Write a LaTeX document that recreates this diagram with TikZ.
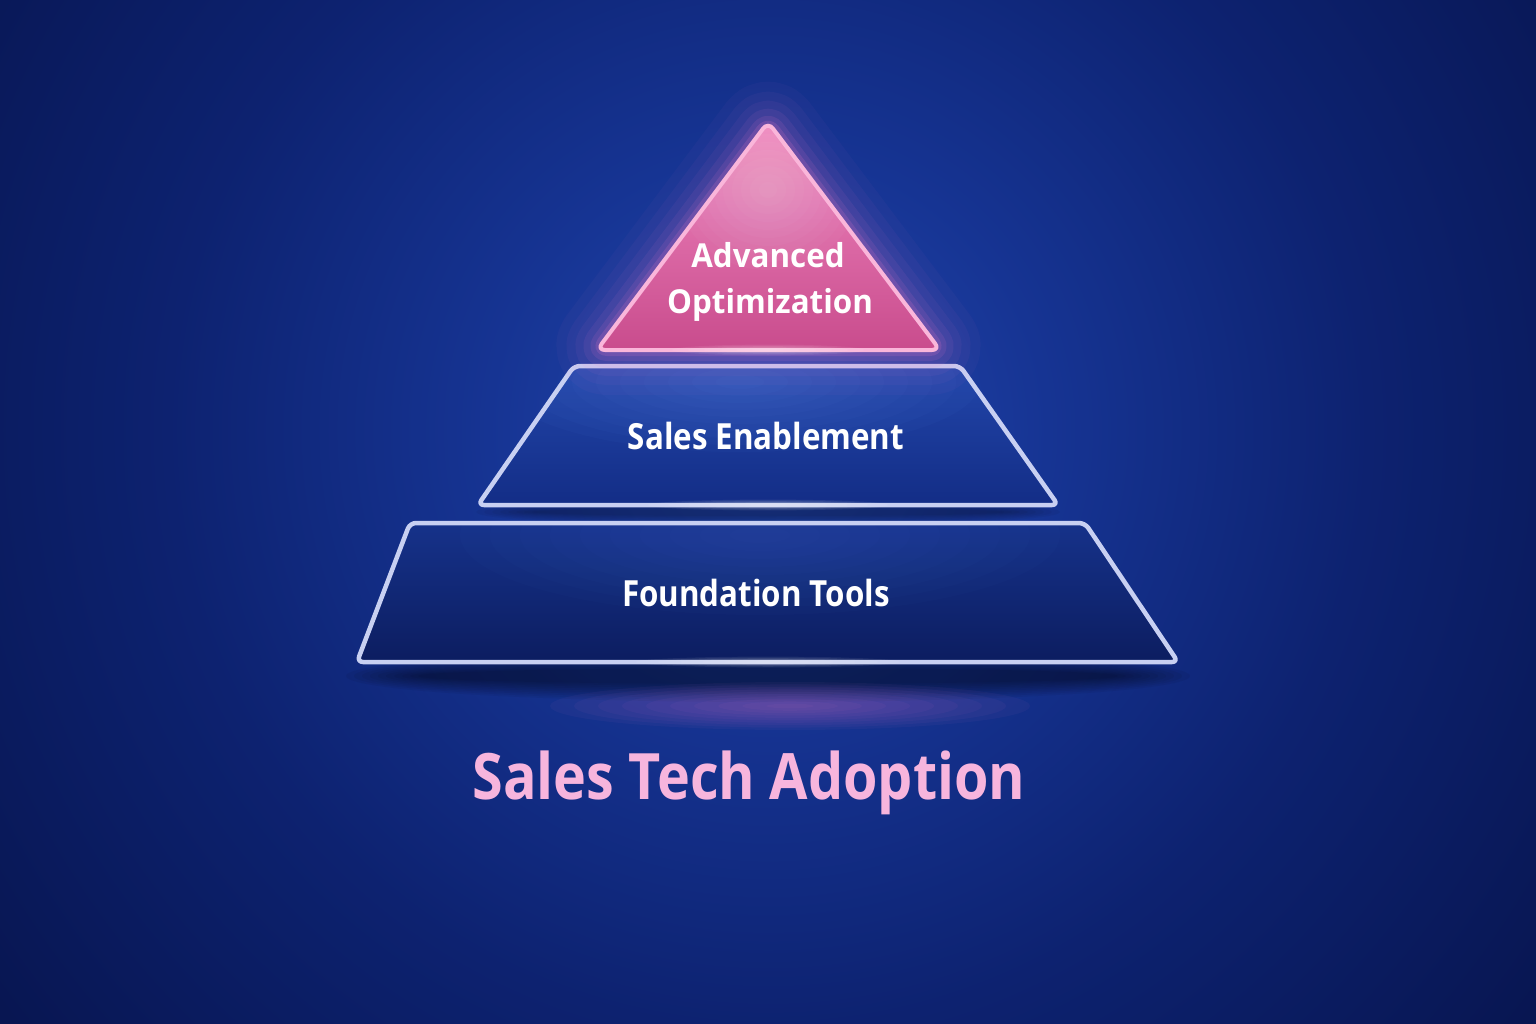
\documentclass[tikz,border=0pt]{standalone}
\usepackage{fontspec}
\newfontfamily\lbl[FakeStretch=0.87]{Open Sans}
\newfontfamily\lblw[FakeStretch=0.95]{Open Sans}
\definecolor{bgA}{HTML}{2548B0}
\definecolor{bgB}{HTML}{163493}
\definecolor{bgC}{HTML}{0D2270}
\definecolor{bgD}{HTML}{081652}
\definecolor{edgec}{HTML}{C8D0F2}
\definecolor{pinkL}{HTML}{F088C0}
\definecolor{pinkD}{HTML}{C94C8D}
\definecolor{pinkE}{HTML}{FAB6DA}
\definecolor{glowpink}{HTML}{F27ACB}
\definecolor{titlepink}{HTML}{F7B5DD}
\definecolor{midT}{HTML}{2246AA}
\definecolor{midB}{HTML}{132D86}
\definecolor{botT}{HTML}{16328A}
\definecolor{botB}{HTML}{0C1D60}
\definecolor{spotblue}{HTML}{5A86E6}
\pgfdeclareradialshading{bgshade}{\pgfpointorigin}{color(0bp)=(bgA); color(7bp)=(bgB); color(15bp)=(bgC); color(24bp)=(bgD); color(50bp)=(bgD)}
\tikzset{
  tierlabel/.style={text=white, font=\lbl\bfseries\fontsize{36}{40}\selectfont, anchor=base, inner sep=0pt},
  toplabel/.style={text=white, font=\lblw\bfseries\fontsize{33}{38}\selectfont, anchor=base, inner sep=0pt},
  titlelabel/.style={text=titlepink, font=\lbl\bfseries\fontsize{64}{70}\selectfont, anchor=base, inner sep=0pt},
  tieredge/.style={draw=edgec, line width=4.5pt, rounded corners=6pt, line join=round},
}
\begin{document}
\begin{tikzpicture}[x=1pt,y=-1pt]
\useasboundingbox (0,0) rectangle (1536,1024);
% background
\begin{scope}
\clip (0,0) rectangle (1536,1024);
\shade[shading=bgshade] (768,430) circle (1000);
\end{scope}

% shadows below tiers
\foreach \i in {1,...,10}
  \fill[black, opacity=0.05] (768,676) ellipse ({430-\i*8} and {28-\i*2});
\foreach \i in {1,...,8}
  \fill[black, opacity=0.045] (768,512) ellipse ({300-\i*8} and {16-\i*1.5});
% pink floor glow
\foreach \i in {1,...,10}
  \fill[glowpink, opacity=0.045] (790,706) ellipse ({\i*24} and {\i*2.4});

% ---------- bottom tier
\coordinate (b1) at (410,523);
\coordinate (b2) at (1085,523);
\coordinate (b3) at (1178,662);
\coordinate (b4) at (357,662);
\shade[top color=botT, bottom color=botB, rounded corners=6pt] (b1) -- (b2) -- (b3) -- (b4) -- cycle;
\begin{scope}
\clip (b1) -- (b2) -- (b3) -- (b4) -- cycle;
\foreach \i in {1,...,10}
  \fill[spotblue, opacity=0.025] (760,535) ellipse ({\i*30} and {\i*8});
\end{scope}
\draw[tieredge] (768,662) -- (b3) -- (b2) -- (b1) -- (b4) -- cycle;
\foreach \i in {1,...,6}
  \fill[white, opacity=0.07] (768,662) ellipse ({\i*22} and {\i*0.9});

% ---------- middle tier
\coordinate (m1) at (574,366);
\coordinate (m2) at (960,366);
\coordinate (m3) at (1058,505);
\coordinate (m4) at (478,505);
\shade[top color=midT, bottom color=midB, rounded corners=6pt] (m1) -- (m2) -- (m3) -- (m4) -- cycle;
\begin{scope}
\clip (m1) -- (m2) -- (m3) -- (m4) -- cycle;
\foreach \i in {1,...,10}
  \fill[spotblue, opacity=0.045] (740,382) ellipse ({\i*24} and {\i*7});
\end{scope}
\draw[tieredge] (768,505) -- (m3) -- (m2) -- (m1) -- (m4) -- cycle;
\foreach \i in {1,...,6}
  \fill[white, opacity=0.08] (768,505) ellipse ({\i*20} and {\i*0.9});

% ---------- top triangle
\coordinate (t1) at (768,122);
\coordinate (t2) at (940,350);
\coordinate (t3) at (597,350);
\foreach \w/\o in {90/0.035,70/0.045,52/0.055,36/0.08,22/0.11,12/0.16}
  \draw[glowpink, line width=\w pt, opacity=\o, rounded corners=10pt, line join=round] (768,350) -- (t2) -- (t1) -- (t3) -- cycle;
\shade[top color=pinkL, bottom color=pinkD, rounded corners=8pt] (768,350) -- (t2) -- (t1) -- (t3) -- cycle;
\begin{scope}
\clip (768,350) -- (t2) -- (t1) -- (t3) -- cycle;
\foreach \i in {1,...,10}
  \fill[white, opacity=0.028] (768,190) ellipse ({\i*9} and {\i*8});
\end{scope}
\draw[pinkE, line width=4pt, rounded corners=8pt, line join=round] (768,350) -- (t2) -- (t1) -- (t3) -- cycle;
\foreach \i in {1,...,6}
  \fill[white, opacity=0.08] (768,350) ellipse ({\i*16} and {\i*0.9});

% ---------- labels
\node[toplabel] (adv) at (768,268) {Advanced};
\node[toplabel] (opt) at (770,313) {Optimization};
\node[tierlabel] (se) at (766,449) {Sales Enablement};
\node[tierlabel] (ft) at (756,606) {Foundation Tools};
\node[titlelabel] (title) at (749,799) {Sales Tech Adoption};
\end{tikzpicture}
\end{document}
